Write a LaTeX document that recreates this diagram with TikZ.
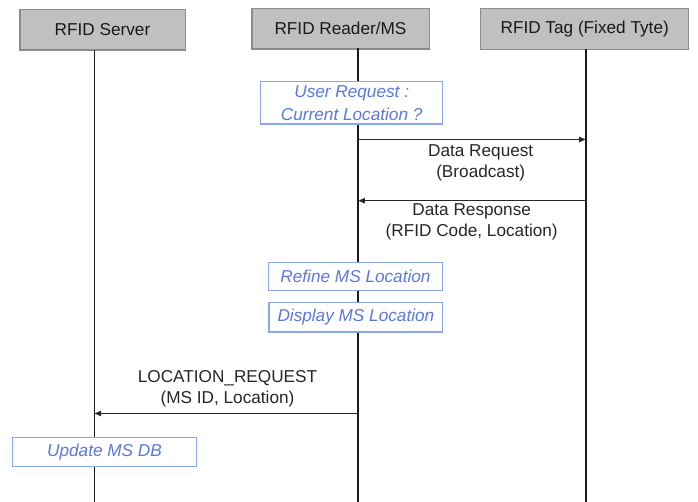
\documentclass[tikz,border=0pt]{standalone}
\usepackage{fontspec}
\setmainfont{Liberation Sans}
\usetikzlibrary{arrows.meta}
\definecolor{hdrfill}{HTML}{C0C0C0}
\definecolor{hdrdraw}{HTML}{8C8C8C}
\definecolor{acttext}{HTML}{5A78E0}
\definecolor{actdraw}{HTML}{8AA6EE}
\begin{document}
\begin{tikzpicture}[x=0.75pt,y=-0.75pt,
  every node/.style={font=\fontsize{12.9}{15.8}\selectfont, inner sep=0pt, outer sep=0pt},
  header/.style={draw=hdrdraw, line width=1pt, fill=hdrfill, minimum height=30.5pt, text=black!90},
  lifeline/.style={line width=1.4pt, black!90},
  action/.style={draw=actdraw, line width=0.9pt, fill=white, text=acttext,
    font=\fontsize{12.9}{17.5}\selectfont\itshape, align=center},
  msg/.style={line width=0.9pt, black!85, -{Triangle[length=5pt,width=4pt]}},
  msgtext/.style={align=center, text=black!85}]
\useasboundingbox (0,0) rectangle (698,502);

% participants
\node[header, minimum width=124pt] (srv) at (102.5,29.6) {RFID Server};
\node[header, minimum width=133pt] (rdr) at (340.5,28.6) {RFID Reader/MS};
\node[header, minimum width=156pt] (tag) at (584.7,29.0) {RFID Tag (Fixed Tyte)};

% lifeline ends
\coordinate (srvtop) at (94.5,50);
\coordinate (rdrtop) at (358.3,48.5);
\coordinate (tagtop) at (585.7,49);
\coordinate (srvend) at (94.5,502);
\coordinate (rdrend) at (358.3,502);
\coordinate (tagend) at (585.7,502);
\draw[lifeline] (srvtop) -- (srvend);
\draw[lifeline] (rdrtop) -- (rdrend);
\draw[lifeline] (tagtop) -- (tagend);

% local actions
\node[action, minimum width=136.5pt, minimum height=31.7pt] (ureq) at (351.7,102.9)
  {User Request :\\Current Location ?};
\node[action, minimum width=130.8pt, minimum height=21.3pt] (refine) at (355.5,276.5)
  {Refine MS Location};
\node[action, minimum width=130.3pt, minimum height=22pt] (disp) at (355.9,317.3)
  {Display MS Location};
\node[action, minimum width=138.3pt, minimum height=21.8pt] (upd) at (104.5,452.2)
  {Update MS DB};

% messages
\coordinate (m1a) at (358.3,139.5);
\coordinate (m1b) at (585.7,139.5);
\draw[msg] (m1a) -- (m1b);
\node[msgtext] (m1t) at (480.7,162.5) {Data Request\\(Broadcast)};

\coordinate (m2a) at (585.7,200.7);
\coordinate (m2b) at (358.3,200.7);
\draw[msg] (m2a) -- (m2b);
\node[msgtext] (m2t) at (471.7,221.5) {Data Response\\(RFID Code, Location)};

\coordinate (m3a) at (358.3,413.5);
\coordinate (m3b) at (94.5,413.5);
\draw[msg] (m3a) -- (m3b);
\node[msgtext] (m3t) at (227.5,388.5) {LOCATION\_REQUEST\\(MS ID, Location)};
\end{tikzpicture}
\end{document}
